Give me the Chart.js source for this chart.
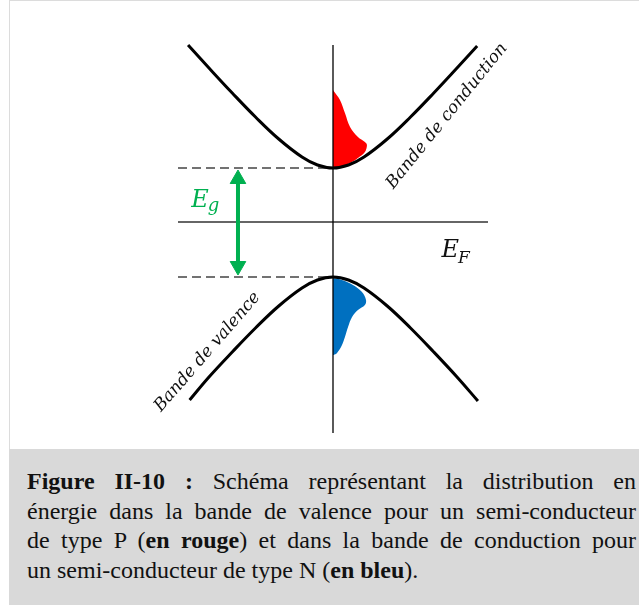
<!DOCTYPE html>
<html>
<head>
<meta charset="utf-8">
<script src="https://cdn.jsdelivr.net/npm/chart.js@4.4.1/dist/chart.umd.min.js"></script>
<style>
  html, body { margin: 0; padding: 0; background: #ffffff; }
  body { width: 639px; height: 605px; position: relative; overflow: hidden; }
  #frame { position: absolute; left: 9px; top: 0; width: 630px; height: 449px;
           border-left: 1px solid #dcdcdc; border-top: 1px solid #dcdcdc; box-sizing: border-box; }
  #wrap { position: absolute; left: 10px; top: 1px; width: 629px; height: 448px; }
  #caption { position: absolute; left: 9px; top: 449px; width: 630px; height: 156px;
             background: #d9d9d9; box-sizing: border-box; padding: 18px 3px 0 18px;
             font-family: "Liberation Serif", "Times New Roman", serif; font-size: 24px;
             line-height: 29.5px; color: #111; }
  .ln { text-align: justify; text-align-last: justify; white-space: nowrap; }
  .ln.last { text-align-last: left; }
</style>
</head>
<body>
<div id="frame"></div>
<div id="wrap"><canvas id="c" width="629" height="448"></canvas></div>
<div id="caption">
  <div class="ln"><b>Figure II-10 :</b> Schéma représentant la distribution en</div>
  <div class="ln">énergie dans la bande de valence pour un semi-conducteur</div>
  <div class="ln">de type P (<b>en rouge</b>) et dans la bande de conduction pour</div>
  <div class="ln last">un semi-conducteur de type N (<b>en bleu</b>).</div>
</div>
<script>
// ---- data (wave vector k, energy E; arbitrary units) ----
const conductionK = [-0.935, -0.8, -0.65, -0.5, -0.35, -0.2, -0.1, 0, 0.1, 0.2, 0.35, 0.5, 0.65, 0.8, 0.93];
const conductionE = [1.77, 1.54, 1.29, 1.05, 0.83, 0.65, 0.57, 0.54, 0.57, 0.65, 0.83, 1.05, 1.29, 1.54, 1.76];
const valenceK    = [-0.925, -0.8, -0.65, -0.5, -0.35, -0.2, -0.1, 0, 0.1, 0.2, 0.35, 0.5, 0.65, 0.8, 0.935];
const valenceE    = [-1.78, -1.55, -1.30, -1.06, -0.84, -0.66, -0.58, -0.55, -0.58, -0.66, -0.84, -1.06, -1.30, -1.55, -1.79];
const redK  = [0, 0.045, 0.077, 0.11, 0.161, 0.206, 0.219, 0.206, 0.161, 0.11, 0.045, 0];
const redE  = [1.32, 1.22, 1.09, 0.95, 0.85, 0.80, 0.77, 0.70, 0.64, 0.59, 0.55, 0.54];
const blueK = [0, 0.058, 0.129, 0.187, 0.213, 0.206, 0.161, 0.123, 0.097, 0.077, 0.058, 0.026, 0.004, 0];
const blueE = [-0.56, -0.58, -0.63, -0.70, -0.78, -0.83, -0.88, -0.95, -1.05, -1.15, -1.23, -1.31, -1.33, -1.33];
const Ec = 0.54, Ev = -0.55, EF = 0;
const gapK = -0.613;
const gapArrowE = [0.43, -0.44];
const kRange = [-1, 1];
const eRange = [-2.11, 1.77];
const labels = { gap: ["E", "g"], fermi: ["E", "F"], cond: "Bande de conduction", val: "Bande de valence" };

const pts = (xs, ys) => xs.map((x, i) => ({ x, y: ys[i] }));

const labelPlugin = {
  id: 'labels',
  afterDatasetsDraw(chart) {
    const { ctx, scales: { x, y } } = chart;
    ctx.save();
    // E_g
    ctx.fillStyle = '#00B050';
    ctx.textBaseline = 'alphabetic';
    ctx.font = 'italic 24px "DejaVu Serif", serif';
    let px = x.getPixelForValue(-0.915), py = y.getPixelForValue(0.15);
    ctx.fillText(labels.gap[0], px, py);
    let w = ctx.measureText(labels.gap[0]).width;
    ctx.font = 'italic 18px "DejaVu Serif", serif';
    ctx.fillText(labels.gap[1], px + w - 1, py + 4);
    // E_F
    ctx.fillStyle = '#111';
    ctx.font = 'italic 24px "DejaVu Serif", serif';
    px = x.getPixelForValue(0.70); py = y.getPixelForValue(-0.35);
    ctx.fillText(labels.fermi[0], px, py);
    w = ctx.measureText(labels.fermi[0]).width;
    ctx.font = 'italic 17px "DejaVu Serif", serif';
    ctx.fillText(labels.fermi[1], px + w - 1, py + 6);
    // rotated band names
    ctx.fillStyle = '#111';
    ctx.textAlign = 'center';
    ctx.textBaseline = 'middle';
    ctx.font = 'italic 17px "DejaVu Serif", serif';
    ctx.save();
    ctx.translate(x.getPixelForValue(0.735), y.getPixelForValue(1.06));
    ctx.rotate(-51 * Math.PI / 180);
    ctx.fillText(labels.cond, 0, 0);
    ctx.restore();
    ctx.save();
    ctx.translate(x.getPixelForValue(-0.81), y.getPixelForValue(-1.30));
    ctx.rotate(-49 * Math.PI / 180);
    ctx.fillText(labels.val, 0, 0);
    ctx.restore();
    ctx.restore();
  }
};

new Chart(document.getElementById('c'), {
  type: 'scatter',
  data: {
    datasets: [
      { label: 'gap', data: pts([gapK, gapK], gapArrowE), showLine: true, borderColor: '#00B050', borderWidth: 4,
        pointStyle: 'triangle', pointRadius: 9, pointRotation: [0, 180], pointBackgroundColor: '#00B050',
        pointBorderColor: '#00B050', pointBorderWidth: 1, order: 1, clip: false },
      { label: 'conduction', data: pts(conductionK, conductionE), showLine: true, borderColor: '#000', borderWidth: 3,
        pointRadius: 0, tension: 0.4, order: 2, clip: false },
      { label: 'valence', data: pts(valenceK, valenceE), showLine: true, borderColor: '#000', borderWidth: 3,
        pointRadius: 0, tension: 0.4, order: 2, clip: false },
      { label: 'kaxis', data: pts([0, 0], eRange), showLine: true, borderColor: '#000', borderWidth: 1.3,
        pointRadius: 0, order: 3, clip: false },
      { label: 'EF', data: pts(kRange, [EF, EF]), showLine: true, borderColor: '#333', borderWidth: 1.3,
        pointRadius: 0, order: 3, clip: false },
      { label: 'Ec', data: pts([kRange[0], 0], [Ec, Ec]), showLine: true, borderColor: '#444', borderWidth: 1.3,
        borderDash: [9, 5], pointRadius: 0, order: 3, clip: false },
      { label: 'Ev', data: pts([kRange[0], 0], [Ev, Ev]), showLine: true, borderColor: '#444', borderWidth: 1.3,
        borderDash: [9, 5], pointRadius: 0, order: 3, clip: false },
      { label: 'P', data: pts(redK, redE), showLine: true, borderWidth: 0, borderColor: 'rgba(0,0,0,0)',
        backgroundColor: '#FF0000', fill: 'shape', pointRadius: 0, tension: 0.35, order: 4, clip: false },
      { label: 'N', data: pts(blueK, blueE), showLine: true, borderWidth: 0, borderColor: 'rgba(0,0,0,0)',
        backgroundColor: '#0070C0', fill: 'shape', pointRadius: 0, tension: 0.35, order: 4, clip: false }
    ]
  },
  options: {
    responsive: false,
    animation: false,
    layout: { padding: { left: 168, right: 151, top: 44, bottom: 16 } },
    scales: {
      x: { type: 'linear', min: kRange[0], max: kRange[1], display: false },
      y: { type: 'linear', min: eRange[0], max: eRange[1], display: false }
    },
    plugins: { legend: { display: false }, tooltip: { enabled: false } }
  },
  plugins: [labelPlugin]
});
</script>
</body>
</html>
